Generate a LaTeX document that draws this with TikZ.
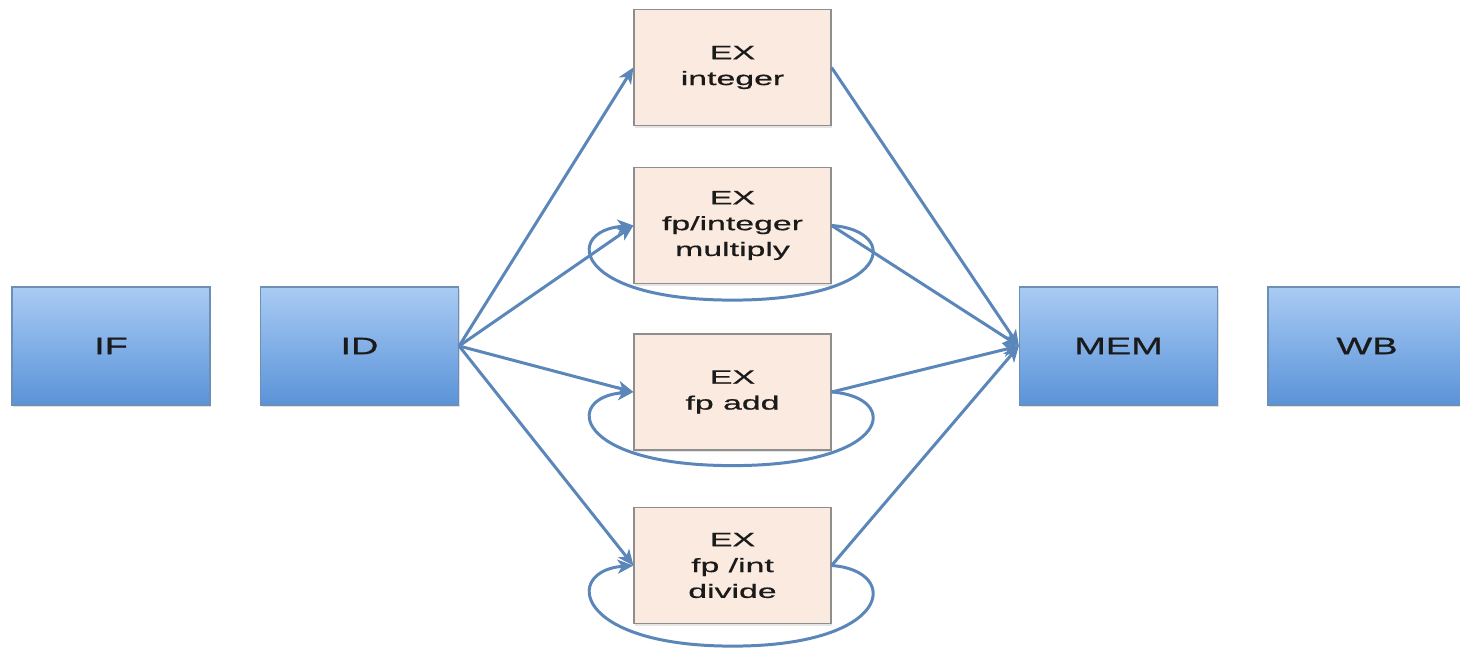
\documentclass[tikz,border=0pt]{standalone}
\usepackage{fontspec}
\setmainfont{Liberation Sans}
\newfontfamily\stagefont[FakeStretch=1.6,FakeBold=0.8]{Liberation Sans}
\newfontfamily\exfont[FakeStretch=1.75,FakeBold=0.7]{Liberation Sans}
\usetikzlibrary{arrows.meta,shadows,calc}
\definecolor{flowblue}{HTML}{5A86BA}
\definecolor{stagetop}{HTML}{A9CBF4}
\definecolor{stagebot}{HTML}{5A93D8}
\definecolor{stageborder}{HTML}{6E8FB5}
\definecolor{exfill}{HTML}{FBEADF}
\definecolor{exborder}{HTML}{8E8E8E}
\definecolor{txt}{HTML}{1A1A1A}
\begin{document}
\begin{tikzpicture}[x=0.02cm,y=-0.02cm,
  stage/.style={draw=stageborder, line width=0.7pt, top color=stagetop, bottom color=stagebot,
    minimum width=3.96cm, minimum height=2.36cm, inner sep=0pt,
    font=\stagefont\fontsize{13.5}{16}\selectfont, text=txt,
    drop shadow={shadow xshift=0.6pt, shadow yshift=-1.2pt, opacity=0.25}},
  exbox/.style={draw=exborder, line width=0.7pt, fill=exfill,
    minimum width=3.94cm, minimum height=2.32cm, inner sep=0pt, align=center,
    font=\exfont\fontsize{11}{14.7}\selectfont, text=txt,
    drop shadow={shadow xshift=0.6pt, shadow yshift=-1.2pt, opacity=0.2}},
  flow/.style={draw=flowblue, line width=1.7pt,
    -{Stealth[length=9pt,width=8pt,inset=2.5pt]}},
  loopline/.style={draw=flowblue, line width=1.7pt,
    -{Stealth[length=9pt,width=8pt,inset=2.5pt]}}
]
\clip (0,0) rectangle (1460,652);
\fill[white] (0,0) rectangle (1460,652);

\node[stage] (if)  at (111,346)    {IF};
\node[stage] (id)  at (359.5,346)  {ID};
\node[stage] (mem) at (1118.5,346) {MEM};
\node[stage] (wb)  at (1367,346)   {WB};

\node[exbox] (int) at (732.5,67.5)  {EX\\integer};
\node[exbox] (mul) at (732.5,225.5) {EX\\fp/integer\\multiply};
\node[exbox] (add) at (732.5,392)   {EX\\fp add};
\node[exbox] (div) at (732.5,565.5) {EX\\fp /int\\divide};

\coordinate (mulb) at ($(mul.south)+(0,16)$);
\coordinate (addb) at ($(add.south)+(0,15)$);
\coordinate (divb) at ($(div.south)+(0,22)$);

% loops
\draw[loopline] (mul.east) .. controls +(70,5) and +(160,0) .. (mulb)
                           .. controls +(-160,0) and +(-70,5) .. (mul.west);
\draw[loopline] (add.east) .. controls +(70,5) and +(160,0) .. (addb)
                           .. controls +(-160,0) and +(-70,5) .. (add.west);
\draw[loopline] (div.east) .. controls +(70,5) and +(160,0) .. (divb)
                           .. controls +(-160,0) and +(-70,5) .. (div.west);

% ID to EX units
\draw[flow] (id.east) -- (int.west);
\draw[flow] (id.east) -- (mul.west);
\draw[flow] (id.east) -- (add.west);
\draw[flow] (id.east) -- (div.west);

% EX units to MEM
\draw[flow] (int.east) -- (mem.west);
\draw[flow] (mul.east) -- (mem.west);
\draw[flow] (add.east) -- (mem.west);
\draw[flow] (div.east) -- (mem.west);
\end{tikzpicture}
\end{document}
